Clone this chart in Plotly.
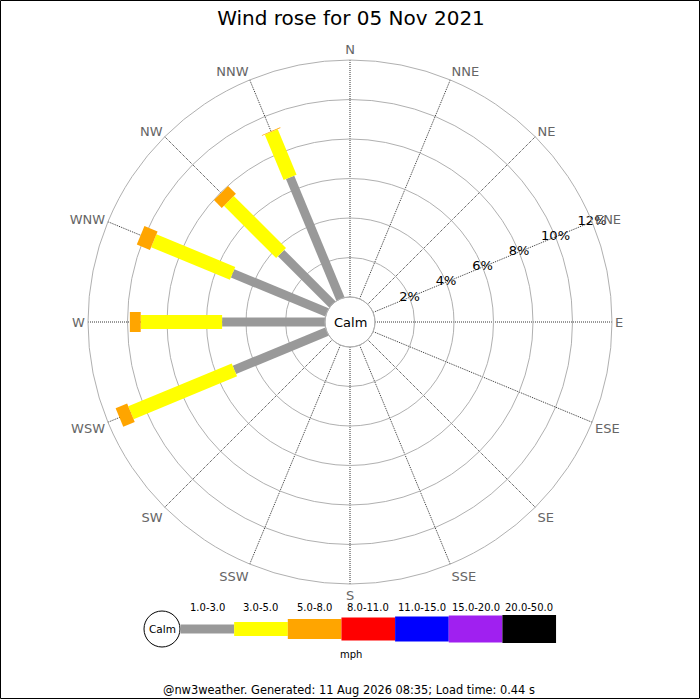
import plotly.graph_objects as go

# ---------------- data ----------------
directions = ["N", "NNE", "NE", "ENE", "E", "ESE", "SE", "SSE",
              "S", "SSW", "SW", "WSW", "W", "WNW", "NW", "NNW"]

band_labels = ["1.0-3.0", "3.0-5.0", "5.0-8.0", "8.0-11.0",
               "11.0-15.0", "15.0-20.0", "20.0-50.0"]

# frequency (%) per direction for each speed band
freq_1_3 = [0, 0, 0, 0, 0, 0, 0, 0, 0, 0, 0, 5.07, 5.21, 5.17, 3.67, 6.66]
freq_3_5 = [0, 0, 0, 0, 0, 0, 0, 0, 0, 0, 0, 5.67, 4.12, 4.32, 3.74, 2.49]
freq_5_8 = [0, 0, 0, 0, 0, 0, 0, 0, 0, 0, 0, 0.63, 0.55, 0.72, 0.56, 0.04]
freq_8_11 = [0] * 16
freq_11_15 = [0] * 16
freq_15_20 = [0] * 16
freq_20_50 = [0] * 16
band_freqs = [freq_1_3, freq_3_5, freq_5_8, freq_8_11,
              freq_11_15, freq_15_20, freq_20_50]

radial_ticks = [2, 4, 6, 8, 10, 12]
radial_labels = ["2%", "4%", "6%", "8%", "10%", "12%"]
radial_label_dir = "ENE"

# ---------------- styles ----------------
band_colors = ["#999999", "#ffff00", "#ffa500", "#ff0000",
               "#0000ff", "#a020f0", "#000000"]
band_widths = [9, 14, 20, 23, 25, 27, 28]
FONT = "DejaVu Sans"

W = H = 700


def px(x):
    return x / W


def py(y):
    return 1 - y / H


cx, cy, R = 350, 322, 262
calm_r = 25

fig = go.Figure()

cum = [0.0] * len(directions)
for freqs, col, wid in zip(band_freqs, band_colors, band_widths):
    rs, ths = [], []
    for i, v in enumerate(freqs):
        if v > 0:
            rs += [cum[i], cum[i] + v, None]
            ths += [directions[i], directions[i], None]
            cum[i] += v
    if rs:
        fig.add_trace(go.Scatterpolar(
            r=rs, theta=ths, mode="lines", connectgaps=False,
            line=dict(color=col, width=wid), hoverinfo="skip",
            showlegend=False))

# radial scale labels, centred on the ENE spoke
fig.add_trace(go.Scatterpolar(
    r=radial_ticks, theta=[radial_label_dir] * len(radial_ticks),
    mode="text", text=radial_labels, textposition="middle center",
    textfont=dict(size=13, color="black", family=FONT),
    hoverinfo="skip", showlegend=False))

fig.update_layout(
    width=W, height=H,
    margin=dict(l=0, r=0, t=0, b=0),
    paper_bgcolor="white",
    font=dict(family=FONT),
    showlegend=False,
    title=dict(text="Wind rose for 05 Nov 2021", x=px(351), xanchor="center",
               y=py(18), yanchor="middle",
               font=dict(size=20, color="black", family=FONT)),
    polar=dict(
        domain=dict(x=[px(cx - R), px(cx + R)],
                    y=[py(cy + R), py(cy - R)]),
        hole=calm_r / R,
        bgcolor="white",
        angularaxis=dict(
            type="category", categoryarray=directions,
            rotation=90, direction="clockwise",
            showgrid=True, gridcolor="#333333", griddash="1px,1px", gridwidth=1,
            showline=True, linecolor="#b0b0b0", linewidth=1,
            ticks="", tickfont=dict(size=13, color="#666666", family=FONT)),
        radialaxis=dict(
            range=[0, 12], tickvals=radial_ticks,
            angle=22.5, showticklabels=False,
            showgrid=True, gridcolor="#b0b0b0", gridwidth=1,
            showline=False, ticks=""),
    ),
)

shapes = []
annotations = []


def text(t, x, y, size, color="black"):
    annotations.append(dict(text=t, x=px(x), y=py(y), xref="paper", yref="paper",
                            xanchor="center", yanchor="middle", showarrow=False,
                            font=dict(size=size, color=color, family=FONT)))


# thin frame around the whole image
shapes.append(dict(type="rect", xref="paper", yref="paper",
                   x0=px(0.5), x1=px(699.5), y0=py(698.5), y1=py(0.5),
                   line=dict(color="black", width=1), fillcolor="rgba(0,0,0,0)"))

# calm circle in the middle
shapes.append(dict(type="circle", xref="paper", yref="paper",
                   x0=px(cx - calm_r), x1=px(cx + calm_r),
                   y0=py(cy + calm_r), y1=py(cy - calm_r),
                   line=dict(color="#b0b0b0", width=1), fillcolor="rgba(0,0,0,0)"))
text("Calm", cx, cy, 13)

# legend
leg_y = 629
leg_x0 = 180.5
leg_w = 53.65
lc_x, lc_r = 162, 18
shapes.append(dict(type="circle", xref="paper", yref="paper",
                   x0=px(lc_x - lc_r), x1=px(lc_x + lc_r),
                   y0=py(leg_y + lc_r), y1=py(leg_y - lc_r),
                   line=dict(color="black", width=1), fillcolor="white"))
text("Calm", lc_x, leg_y, 10.5)
for i, (lab, col, wid) in enumerate(zip(band_labels, band_colors, band_widths)):
    x0 = leg_x0 + i * leg_w
    x1 = x0 + leg_w
    shapes.append(dict(type="rect", xref="paper", yref="paper",
                       x0=px(x0), x1=px(x1),
                       y0=py(leg_y + wid / 2), y1=py(leg_y - wid / 2),
                       line=dict(width=0), fillcolor=col, layer="above"))
    text(lab, (x0 + x1) / 2, 607, 10)
text("mph", 351, 654, 10)
text("@nw3weather. Generated: 11 Aug 2026 08:35; Load time: 0.44 s", 349, 690, 11.4)

fig.update_layout(shapes=shapes, annotations=annotations)

# remove the default page margin so the 700x700 figure fills the window
fig.write_html("out.html",
               config={"displayModeBar": False},
               post_script="document.body.style.margin='0';"
                           "document.body.style.overflow='hidden';")
